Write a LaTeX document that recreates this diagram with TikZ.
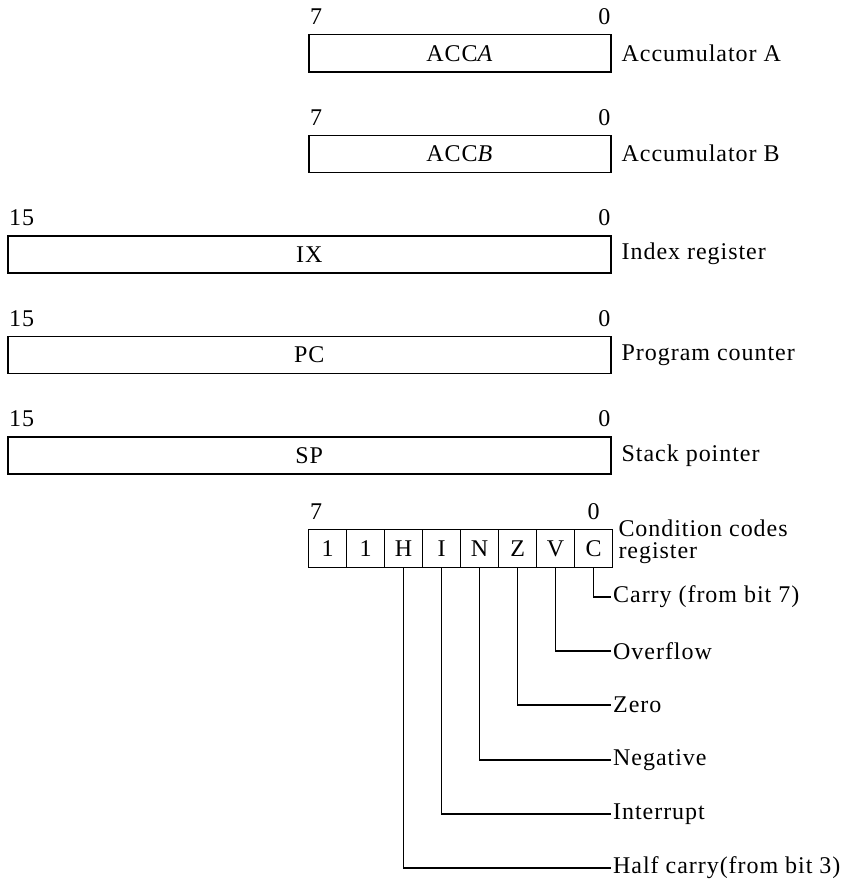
\documentclass[tikz,border=0pt]{standalone}
\usepackage{fontspec}
\setmainfont{Liberation Serif}[LetterSpace=4]
\usetikzlibrary{positioning}

\begin{document}
\begin{tikzpicture}[x=1pt,y=-1pt,
  font=\fontsize{24}{22}\selectfont,
  reg/.style={draw,line width=1.5pt,minimum height=37pt,inner sep=0pt,anchor=north west},
  cell/.style={draw,line width=1.3pt,minimum width=38pt,minimum height=38pt,inner sep=0pt,anchor=north west},
  bitno/.style={inner sep=0pt},
  lbl/.style={anchor=west,inner sep=2pt,align=left},
  wire/.style={line width=1.1pt}]
\useasboundingbox (0,0) rectangle (855,883);

% Registers
\node[reg,minimum width=302pt] (acca) at (308,34) {ACC\textit{A}};
\node[reg,minimum width=302pt] (accb) at (308,134.5) {ACC\textit{B}};
\node[reg,minimum width=603pt] (ix) at (7,235) {IX};
\node[reg,minimum width=603pt] (pc) at (7,335.5) {PC};
\node[reg,minimum width=603pt] (sp) at (7,436) {SP};

% Bit numbers above the registers
\node[bitno,above right=9pt and 2pt of acca.north west] {7};
\node[bitno,above left=9pt and 1pt of acca.north east] {0};
\node[bitno,above right=9pt and 2pt of accb.north west] {7};
\node[bitno,above left=9pt and 1pt of accb.north east] {0};
\node[bitno,above right=9pt and 2pt of ix.north west] {15};
\node[bitno,above left=9pt and 1pt of ix.north east] {0};
\node[bitno,above right=9pt and 2pt of pc.north west] {15};
\node[bitno,above left=9pt and 1pt of pc.north east] {0};
\node[bitno,above right=9pt and 2pt of sp.north west] {15};
\node[bitno,above left=9pt and 1pt of sp.north east] {0};

% Register names
\node[lbl,right=8pt of acca] (acca-l) {Accumulator A};
\node[lbl,right=8pt of accb] (accb-l) {Accumulator B};
\node[lbl,right=8pt of ix] (ix-l) {Index register};
\node[lbl,right=8pt of pc] (pc-l) {Program counter};
\node[lbl,right=8pt of sp] (sp-l) {Stack pointer};

% Condition codes register
\foreach \i/\b in {1/1,2/1,3/H,4/I,5/N,6/Z,7/V,8/C}
  \node[cell] (c\i) at ({308+38*(\i-1)},529) {\b};
\node[bitno,above right=9pt and 2pt of c1.north west] {7};
\node[bitno,above=9pt of c8.north] {0};
\node[lbl] (ccr-l) at ([xshift=3pt,yshift=7pt]c8.east) {Condition codes\\register};

% Flags
\foreach \i/\y/\t in {8/597/Carry (from bit 7),7/651/Overflow,6/705/Zero,5/760/Negative,4/814/Interrupt,3/868/Half carry(from bit 3)} {
  \node[lbl] (f\i) at (611,\y) {\t};
  \draw[wire] (c\i.south) |- (f\i.west);
}
\end{tikzpicture}
\end{document}
